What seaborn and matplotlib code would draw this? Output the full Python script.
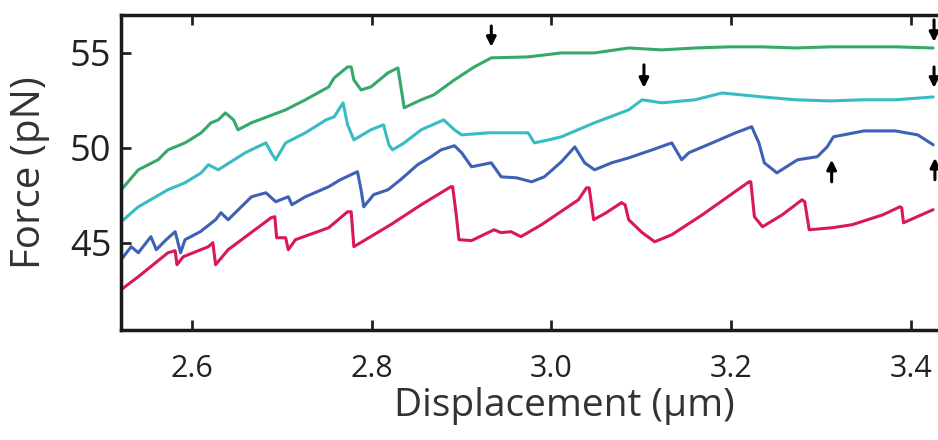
import numpy as np
import pandas as pd
import matplotlib
matplotlib.use("Agg")
import matplotlib.pyplot as plt
import seaborn as sns

# traces (displacement in um, force in pN)
green_x = [2.521, 2.540, 2.562, 2.573, 2.592, 2.610, 2.621, 2.629, 2.637, 2.646, 2.651, 2.666,
           2.704, 2.726, 2.752, 2.758, 2.773, 2.777, 2.780, 2.788, 2.799, 2.818, 2.829, 2.832,
           2.836, 2.855, 2.869, 2.892, 2.914, 2.933, 2.974, 3.011, 3.048, 3.086, 3.123, 3.160,
           3.198, 3.235, 3.272, 3.310, 3.346, 3.383, 3.425]
green_f = [47.79, 48.84, 49.37, 49.89, 50.26, 50.79, 51.32, 51.47, 51.84, 51.47, 50.95, 51.32,
           52.00, 52.53, 53.21, 53.68, 54.26, 54.26, 53.58, 53.05, 53.21, 53.95, 54.21, 53.32,
           52.11, 52.53, 52.79, 53.58, 54.26, 54.74, 54.79, 55.00, 55.00, 55.26, 55.16, 55.26,
           55.32, 55.32, 55.26, 55.32, 55.32, 55.32, 55.26]

cyan_x = [2.521, 2.540, 2.573, 2.592, 2.610, 2.618, 2.629, 2.659, 2.682, 2.688, 2.693, 2.704,
          2.726, 2.749, 2.758, 2.768, 2.773, 2.780, 2.799, 2.813, 2.819, 2.823, 2.836, 2.855,
          2.880, 2.892, 2.900, 2.930, 2.974, 2.981, 2.997, 3.011, 3.048, 3.086, 3.101, 3.123,
          3.160, 3.190, 3.235, 3.272, 3.310, 3.346, 3.383, 3.425]
cyan_f = [46.11, 46.89, 47.79, 48.16, 48.68, 49.11, 48.84, 49.74, 50.26, 49.74, 49.37, 50.26,
          50.79, 51.47, 51.63, 52.37, 51.21, 50.42, 50.95, 51.21, 50.16, 49.89, 50.26, 50.95,
          51.47, 50.95, 50.68, 50.79, 50.79, 50.26, 50.42, 50.58, 51.32, 52.00, 52.53, 52.37,
          52.53, 52.89, 52.68, 52.53, 52.47, 52.53, 52.53, 52.68]

blue_x = [2.521, 2.532, 2.540, 2.554, 2.560, 2.571, 2.581, 2.587, 2.592, 2.609, 2.626, 2.632,
          2.640, 2.666, 2.682, 2.693, 2.707, 2.711, 2.726, 2.752, 2.765, 2.784, 2.788, 2.791,
          2.802, 2.818, 2.832, 2.851, 2.866, 2.877, 2.892, 2.900, 2.911, 2.933, 2.944, 2.961,
          2.978, 2.992, 3.011, 3.026, 3.037, 3.048, 3.067, 3.086, 3.112, 3.134, 3.145, 3.153,
          3.179, 3.205, 3.223, 3.227, 3.231, 3.237, 3.251, 3.274, 3.296, 3.307, 3.314, 3.348,
          3.383, 3.408, 3.425]
blue_f = [44.11, 44.79, 44.47, 45.32, 44.63, 45.16, 45.58, 44.47, 45.16, 45.58, 46.21, 46.58,
          46.21, 47.42, 47.63, 47.16, 47.42, 47.00, 47.42, 47.95, 48.32, 48.74, 47.79, 46.89,
          47.53, 47.79, 48.32, 49.11, 49.53, 49.89, 50.11, 49.74, 49.00, 49.21, 48.47, 48.42,
          48.21, 48.47, 49.26, 50.05, 49.21, 48.84, 49.21, 49.47, 49.89, 50.26, 49.37, 49.74,
          50.26, 50.79, 51.11, 50.68, 50.26, 49.21, 48.68, 49.37, 49.53, 50.05, 50.58, 50.89,
          50.89, 50.68, 50.16]

red_x = [2.521, 2.540, 2.573, 2.581, 2.583, 2.590, 2.618, 2.623, 2.626, 2.640, 2.688, 2.692,
         2.694, 2.704, 2.707, 2.715, 2.752, 2.773, 2.777, 2.780, 2.821, 2.855, 2.888, 2.890,
         2.894, 2.897, 2.911, 2.936, 2.944, 2.955, 2.966, 2.989, 3.030, 3.039, 3.042, 3.047,
         3.061, 3.078, 3.082, 3.086, 3.101, 3.115, 3.134, 3.168, 3.220, 3.222, 3.226, 3.235,
         3.257, 3.279, 3.282, 3.287, 3.313, 3.335, 3.369, 3.388, 3.390, 3.392, 3.425]
red_f = [42.53, 43.21, 44.47, 44.58, 43.84, 44.26, 44.79, 45.00, 43.84, 44.63, 46.32, 46.37,
         45.26, 45.26, 44.63, 45.16, 45.79, 46.63, 46.63, 44.79, 45.95, 47.00, 47.95, 47.95,
         46.47, 45.16, 45.11, 45.68, 45.53, 45.58, 45.32, 45.95, 47.26, 47.89, 47.89, 46.21,
         46.58, 47.11, 47.00, 46.21, 45.53, 45.05, 45.42, 46.47, 48.21, 48.21, 46.37, 45.84,
         46.47, 47.26, 47.16, 45.68, 45.79, 45.95, 46.47, 46.89, 46.84, 46.05, 46.74]

trace_names = ["green", "cyan", "blue", "red"]
trace_colors = ["#35a86a", "#38bcc4", "#3d62b5", "#d8175e"]

# arrows: (x, tail force, head force)
arrow_x = [2.933, 3.103, 3.426, 3.426, 3.312, 3.427]
arrow_tail = [56.42, 54.37, 56.74, 54.26, 48.21, 48.32]
arrow_head = [55.32, 53.16, 55.58, 53.16, 49.37, 49.47]

xticks = [2.6, 2.8, 3.0, 3.2, 3.4]
yticks = [45, 50, 55]


def main():
    frames = []
    for name, xs, fs in zip(trace_names, [green_x, cyan_x, blue_x, red_x],
                            [green_f, cyan_f, blue_f, red_f]):
        frames.append(pd.DataFrame({"x": xs, "force": fs, "trace": name}))
    df = pd.concat(frames, ignore_index=True)

    sns.set_style("ticks")
    plt.rcParams["font.family"] = ["Open Sans", "DejaVu Sans"]

    fig = plt.figure(figsize=(9.38, 4.40), dpi=100)
    ax = fig.add_axes([0.129, 0.25, 0.875, 0.716])

    sns.lineplot(data=df, x="x", y="force", hue="trace", hue_order=trace_names,
                 palette=dict(zip(trace_names, trace_colors)), estimator=None,
                 sort=False, lw=2.2, legend=False, ax=ax)

    for xa, t, h in zip(arrow_x, arrow_tail, arrow_head):
        ax.annotate("", xy=(xa, h), xytext=(xa, t),
                    arrowprops=dict(arrowstyle="-|>", color="black", lw=2.2,
                                    mutation_scale=14, shrinkA=0, shrinkB=0))

    ax.set_xlim(2.5207, 3.4346)
    ax.set_ylim(40.4, 57.0)
    ax.set_xticks(xticks)
    ax.set_xticklabels([f"{v:.1f}" for v in xticks])
    ax.set_yticks(yticks)

    ax.set_xlabel("Displacement (\u03bcm)", fontsize=28, color="#333333")
    ax.xaxis.set_label_coords(0.54, -0.18)
    ax.set_ylabel("Force (pN)", fontsize=29, color="#333333")
    ax.yaxis.set_label_coords(-0.087, 0.5)

    ax.tick_params(axis="x", direction="in", length=7, width=2, top=True,
                   labelsize=22, colors="#222222", pad=17)
    ax.tick_params(axis="y", direction="in", length=7, width=2,
                   labelsize=26, colors="#222222", pad=7)

    for side in ["left", "top", "bottom"]:
        ax.spines[side].set_linewidth(2.5)
        ax.spines[side].set_color("#1a1a1a")
    ax.spines["right"].set_visible(False)

    fig.savefig("out.png", dpi=100)


if __name__ == "__main__":
    main()
